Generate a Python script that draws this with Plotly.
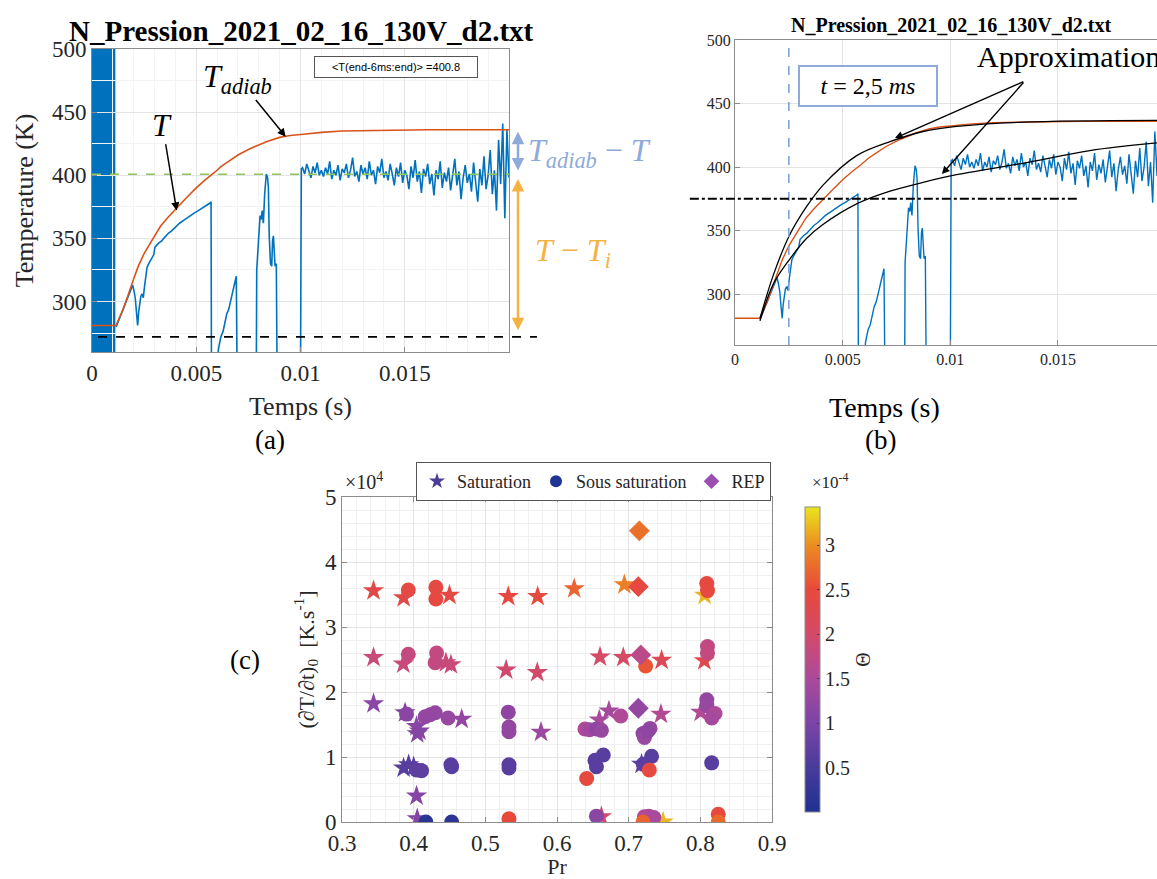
import plotly.graph_objects as go

W, H = 1157, 879
SERIF = "Liberation Serif"
TXT = "#262626"


def px(x):
    return x / W


def py(y):
    return 1 - y / H


# ---------------- data for panels (a) and (b) ----------------
# adiabatic temperature (orange)
t_adiab = [0.0, 0.00115, 0.00150, 0.00174, 0.00200, 0.00222, 0.00250, 0.00286, 0.00300,
           0.00330, 0.00366, 0.00415, 0.00446, 0.00500, 0.00540, 0.00586, 0.00620, 0.00655,
           0.00700, 0.00757, 0.00800, 0.00843, 0.00900, 0.00950, 0.01014, 0.01100, 0.01200,
           0.01300, 0.01443, 0.01614, 0.01800, 0.02000]
T_adiab = [281, 281, 294, 306, 318, 328, 338, 348, 352,
           360, 367, 376, 381, 390, 396, 402, 407, 411,
           416, 421, 424, 427, 430, 431.5, 432.5, 434, 435,
           435.4, 435.7, 436, 436, 436]

# measured temperature (blue)
t_meas = [0.00116, 0.00130, 0.00142, 0.00154, 0.00166, 0.00176, 0.00184, 0.00195, 0.00202,
          0.00208, 0.00214, 0.00219, 0.00224, 0.00228, 0.00234, 0.00240, 0.00246, 0.00252,
          0.00258, 0.00264, 0.00272, 0.00280, 0.00288, 0.00296, 0.00302, 0.00318, 0.00334,
          0.00350, 0.00366, 0.00382, 0.00400, 0.00420, 0.00446, 0.00470, 0.00490, 0.00510,
          0.00530, 0.00550, 0.00566, 0.00571, 0.00573, 0.00600, 0.00606, 0.00618, 0.00628,
          0.00636, 0.00646, 0.00656, 0.00664, 0.00672, 0.00680, 0.00688, 0.00692, 0.00696,
          0.00788, 0.00790, 0.00800, 0.00806, 0.00812, 0.00816, 0.00822, 0.00828, 0.00836,
          0.00842, 0.00846, 0.00850, 0.00856, 0.00862, 0.00866, 0.00870, 0.00874, 0.00878,
          0.00884, 0.00888, 0.01000, 0.01004,
          0.0101, 0.0102, 0.0103, 0.0104, 0.0105, 0.0106, 0.0107, 0.0108, 0.0109, 0.0110,
          0.0111, 0.0112, 0.0113, 0.0114, 0.0115, 0.0116, 0.0117, 0.0118, 0.0119, 0.0120,
          0.0121, 0.0122, 0.0123, 0.0124, 0.0125, 0.0126, 0.0127, 0.0128, 0.0129, 0.0130,
          0.0131, 0.0132, 0.0133, 0.0134, 0.0135, 0.0136, 0.0137, 0.0138, 0.0139, 0.0140,
          0.0141, 0.0142, 0.0143, 0.0144, 0.0145, 0.0146, 0.0147, 0.0148, 0.0149, 0.0150,
          0.0151, 0.0152, 0.0153, 0.0154, 0.0155, 0.0156, 0.0157, 0.0158, 0.0159, 0.0160,
          0.0161, 0.0162, 0.0163, 0.0164, 0.0165, 0.0166, 0.0167, 0.0168, 0.0169, 0.0170,
          0.0171, 0.0172, 0.0173, 0.0174, 0.0175, 0.0176, 0.0177, 0.0178, 0.0179, 0.0180,
          0.0181, 0.0182, 0.0183, 0.0184, 0.0185, 0.0186, 0.0187, 0.0188, 0.0189, 0.0190,
          0.0191, 0.0192, 0.0193, 0.0194, 0.0195, 0.0196, 0.0197, 0.0198, 0.0199, 0.0200]
T_meas = [280, 286, 290, 296, 301, 306, 309, 313, 308,
          302, 290, 281, 292, 299, 304, 306, 303, 312,
          322, 327, 330, 332, 334, 337, 343, 346, 348,
          351, 354, 356, 359, 362, 365, 368, 370, 372,
          374, 376, 378, 379, 240, 240, 262, 272, 276,
          282, 290, 294, 300, 306, 310, 316, 320, 240,
          240, 325, 355, 368, 365, 372, 362, 385, 401,
          398, 390, 352, 330, 328, 348, 352, 340, 328,
          330, 240, 240, 405,
          406, 401, 409, 403, 398, 407, 402, 410, 400, 404,
          399, 406, 401, 411, 397, 404, 400, 408, 396, 405,
          402, 409, 398, 404, 414, 399, 403, 395, 408, 401,
          406, 397, 411, 400, 404, 393, 407, 402, 413, 398,
          403, 396, 409, 401, 392, 406, 399, 410, 394, 404,
          400, 389, 407, 398, 412, 395, 403, 386, 405, 399,
          409, 393, 401, 384, 404, 397, 411, 390, 402, 395,
          406, 388, 399, 413, 392, 403, 381, 398, 408, 394,
          401, 387, 410, 396, 379, 405, 392, 415, 389, 400,
          420, 385, 404, 372, 428, 393, 441, 366, 436, 398]

# approximation curves (panel b)
t_fit_hi = [0.00116, 0.00178, 0.00252, 0.00333, 0.00410, 0.00565, 0.00720, 0.00874,
            0.01029, 0.01338, 0.01960]
T_fit_hi = [281, 315, 346, 369, 386, 409, 420, 428, 432, 435.4, 436.8]
t_fit_lo = [0.00116, 0.00178, 0.00252, 0.00333, 0.00410, 0.00565, 0.00720, 0.00874,
            0.01029, 0.01338, 0.01648, 0.01960]
T_fit_lo = [279, 308, 327, 344, 355, 371, 381, 388, 394, 403, 413, 419]

T_mean = 400.8
T_init = 272
t_trigger = 0.00112
t_mark = 0.0025
T_level = 375

# ---------------- data for panel (c) ----------------
sat_pr = [0.344, 0.386, 0.450, 0.532, 0.573, 0.624, 0.694, 0.806,
          0.344, 0.3855, 0.445, 0.452, 0.529, 0.5725, 0.660, 0.6925, 0.746, 0.8056,
          0.344, 0.388, 0.404, 0.405, 0.408, 0.467, 0.5777, 0.659, 0.6725, 0.745, 0.8005,
          0.386, 0.393, 0.400, 0.718,
          0.404, 0.405, 0.662, 0.748]
sat_dTdt = [35600, 34500, 34900, 34700, 34700, 35900, 36500, 34900,
            25300, 24300, 24500, 24200, 23400, 23000, 25400, 25300, 24900, 24800,
            18200, 16800, 14700, 13600, 14000, 15800, 13800, 15700, 17100, 16600, 16900,
            8300, 8800, 8500, 8900,
            4000, 500, 800, 0]
sat_theta = [2.35, 2.35, 2.4, 2.45, 2.45, 2.7, 2.9, 3.2,
             1.85, 1.85, 1.85, 1.85, 1.95, 2.0, 2.05, 2.05, 2.2, 2.3,
             1.15, 1.1, 1.15, 1.1, 1.1, 1.25, 1.35, 1.5, 1.45, 1.6, 1.6,
             0.65, 0.65, 0.65, 0.7,
             1.1, 1.1, 2.0, 3.2]

sous_pr = [0.3925, 0.431, 0.431, 0.809, 0.810,
           0.3925, 0.432, 0.430, 0.7237, 0.810, 0.810,
           0.390, 0.416, 0.423, 0.430, 0.448, 0.532, 0.533, 0.533, 0.639, 0.6455, 0.655,
           0.662, 0.689, 0.720, 0.722, 0.7298, 0.727, 0.809, 0.809, 0.8205, 0.816,
           0.404, 0.411, 0.452, 0.453, 0.533, 0.533, 0.6646, 0.653, 0.655, 0.6414, 0.732,
           0.7204, 0.7288, 0.8158,
           0.417, 0.453, 0.533, 0.655, 0.722, 0.728, 0.735, 0.720, 0.825, 0.825]
sous_dTdt = [35700, 36100, 34300, 36700, 35600,
             25800, 26000, 24500, 24000, 27000, 26000,
             16600, 16200, 16500, 16800, 16000, 16900, 14600, 13900, 14300, 14200, 14300,
             14100, 16300, 13600, 13000, 14400, 14000, 18800, 17900, 16700, 16000,
             8000, 7900, 8800, 8500, 8800, 8300, 10300, 9500, 8500, 6700, 10100,
             8900, 8000, 9100,
             0, 0, 500, 900, 800, 900, 700, 0, 1200, 0]
sous_theta = [2.4, 2.4, 2.45, 2.45, 2.45,
              1.8, 1.8, 1.8, 2.6, 1.75, 1.8,
              1.15, 1.25, 1.25, 1.25, 1.3, 1.2, 1.25, 1.25, 1.55, 1.4, 1.2,
              1.3, 1.55, 1.2, 1.3, 1.25, 1.2, 1.25, 1.3, 1.55, 1.45,
              0.7, 0.7, 0.65, 0.65, 0.65, 0.65, 0.65, 0.65, 0.65, 2.45, 0.65,
              0.65, 2.45, 0.65,
              0.15, 0.2, 2.5, 1.15, 1.6, 1.55, 1.5, 2.7, 2.45, 2.75]

rep_pr = [0.7149, 0.7135, 0.717, 0.7135]
rep_dTdt = [44800, 36200, 25700, 17500]
rep_theta = [2.8, 2.45, 1.7, 1.25]

legend_names = ["Saturation", "Sous saturation", "REP"]
legend_colors = ["#4b3c98", "#1f3596", "#9b4fb0"]

theta_scale = [[0.0, "#1e3190"], [0.15, "#4a3c9c"], [0.29, "#7b44a6"], [0.44, "#ab4a9c"],
               [0.58, "#d24a6a"], [0.73, "#e8493a"], [0.87, "#ec8a23"], [1.0, "#e9e51b"]]

fig = go.Figure()

# ---- panel (a)
fig.add_trace(go.Scatter(x=t_meas, y=T_meas, mode="lines", line=dict(color="#0072bd", width=1.6),
                         xaxis="x", yaxis="y", showlegend=False))
fig.add_trace(go.Scatter(x=t_adiab, y=T_adiab, mode="lines", line=dict(color="#d95319", width=1.6),
                         xaxis="x", yaxis="y", showlegend=False))

# ---- panel (b)
fig.add_trace(go.Scatter(x=t_meas, y=T_meas, mode="lines", line=dict(color="#0072bd", width=1.4),
                         xaxis="x2", yaxis="y2", showlegend=False))
fig.add_trace(go.Scatter(x=t_adiab, y=T_adiab, mode="lines", line=dict(color="#d95319", width=1.4),
                         xaxis="x2", yaxis="y2", showlegend=False))
fig.add_trace(go.Scatter(x=t_fit_hi, y=T_fit_hi, mode="lines", line=dict(color="black", width=1.3, shape="spline"),
                         xaxis="x2", yaxis="y2", showlegend=False))
fig.add_trace(go.Scatter(x=t_fit_lo, y=T_fit_lo, mode="lines", line=dict(color="black", width=1.3, shape="spline"),
                         xaxis="x2", yaxis="y2", showlegend=False))

# ---- panel (c)
for pr, v, th, sym, size in [(sat_pr, sat_dTdt, sat_theta, "star", 16),
                             (sous_pr, sous_dTdt, sous_theta, "circle", 15),
                             (rep_pr, rep_dTdt, rep_theta, "diamond", 16)]:
    fig.add_trace(go.Scatter(x=pr, y=v, mode="markers", xaxis="x3", yaxis="y3", showlegend=False,
                             marker=dict(symbol=sym, size=size, color=th, coloraxis="coloraxis",
                                         line=dict(width=0))))
for name, col, sym in zip(legend_names, legend_colors, ["star", "circle", "diamond"]):
    fig.add_trace(go.Scatter(x=[None], y=[None], mode="markers", name=name, xaxis="x3", yaxis="y3",
                             marker=dict(symbol=sym, size=12, color=col)))

axis_common = dict(showline=True, linecolor="#8c8c8c", linewidth=1, ticks="inside", ticklen=5,
                   tickcolor="#8c8c8c", zeroline=False, showgrid=True, gridcolor="#e4e4e4",
                   automargin=False)

fig.update_layout(
    width=W, height=H, margin=dict(l=0, r=0, t=0, b=0, autoexpand=False),
    paper_bgcolor="white", plot_bgcolor="white",
    font=dict(family=SERIF, color=TXT),
    xaxis=dict(domain=[px(92), px(509)], range=[0, 0.02], anchor="y", mirror=True,
               tickvals=[0, 0.005, 0.01, 0.015], ticktext=["0", "0.005", "0.01", "0.015"],
               tickfont=dict(size=23, family=SERIF, color=TXT),
               title=dict(text="Temps (s)", font=dict(size=26, family=SERIF, color=TXT), standoff=12),
               minor=dict(dtick=0.001, showgrid=True, gridcolor="#f3f3f3"), **axis_common),
    yaxis=dict(domain=[py(352), py(49)], range=[260, 500], anchor="x", mirror=True,
               tickvals=[300, 350, 400, 450, 500],
               tickfont=dict(size=23, family=SERIF, color=TXT),
               title=dict(text="Temperature (K)", font=dict(size=26, family=SERIF, color=TXT), standoff=10),
               minor=dict(dtick=25, showgrid=True, gridcolor="#f3f3f3"), **axis_common),
    xaxis2=dict(domain=[px(735), 1.0], range=[0, 0.0196], anchor="y2", mirror=True,
                tickvals=[0, 0.005, 0.01, 0.015], ticktext=["0", "0.005", "0.01", "0.015"],
                tickfont=dict(size=16, family=SERIF, color=TXT), **axis_common),
    yaxis2=dict(domain=[py(345), py(40)], range=[260, 500], anchor="x2", mirror=False,
                tickvals=[300, 350, 400, 450, 500],
                tickfont=dict(size=16, family=SERIF, color=TXT), **axis_common),
    xaxis3=dict(domain=[px(342), px(772)], range=[0.3, 0.9], anchor="y3", mirror="ticks",
                tickvals=[0.3, 0.4, 0.5, 0.6, 0.7, 0.8, 0.9],
                ticktext=["0.3", "0.4", "0.5", "0.6", "0.7", "0.8", "0.9"],
                tickfont=dict(size=23, family=SERIF, color=TXT),
                title=dict(text="Pr", font=dict(size=22, family=SERIF, color=TXT), standoff=2),
                minor=dict(dtick=0.02, showgrid=True, gridcolor="#f0f0f0"), **axis_common),
    yaxis3=dict(domain=[py(822), py(497)], range=[0, 50000], anchor="x3", mirror="ticks",
                tickvals=[0, 10000, 20000, 30000, 40000, 50000], ticktext=["0", "1", "2", "3", "4", "5"],
                tickfont=dict(size=23, family=SERIF, color=TXT),
                title=dict(text="(∂T/∂t)<sub>0</sub>  [K.s<sup>-1</sup>]",
                           font=dict(size=22, family=SERIF, color=TXT), standoff=4),
                minor=dict(dtick=2000, showgrid=True, gridcolor="#f0f0f0"), **axis_common),
    coloraxis=dict(colorscale=theta_scale, cmin=0, cmax=3.43,
                   colorbar=dict(x=px(795), xanchor="left", xref="paper", y=py(659.5), yanchor="middle",
                                 yref="paper", len=325 / H, lenmode="fraction", thickness=15,
                                 outlinecolor="#8c8c8c", outlinewidth=1, ticks="inside", ticklen=3,
                                 tickvals=[0.5, 1, 1.5, 2, 2.5, 3],
                                 ticktext=["0.5", "1", "1.5", "2", "2.5", "3"],
                                 tickfont=dict(size=20, family=SERIF, color=TXT),
                                 title=dict(text="Θ", side="right", font=dict(size=20, family=SERIF, color=TXT)))),
    legend=dict(orientation="h", x=px(416), y=py(462), xanchor="left", yanchor="top",
                bordercolor="#555", borderwidth=1, bgcolor="white",
                font=dict(size=18, family=SERIF, color=TXT), itemwidth=30),
)

shapes = [
    # trigger band (a)
    dict(type="rect", xref="x", yref="y domain", x0=0, x1=t_trigger, y0=0, y1=1,
         fillcolor="#0072bd", line=dict(width=0), layer="below"),
    # mean temperature line (a)
    dict(type="line", xref="x", yref="y", x0=0, x1=0.02, y0=T_mean, y1=T_mean,
         line=dict(color="#8fc462", width=1.5, dash="dash")),
    # initial temperature line (a)
    dict(type="line", xref="x domain", yref="y", x0=0.0144, x1=1.067, y0=T_init, y1=T_init,
         line=dict(color="black", width=1.8, dash="dash")),
    # t = 2.5 ms marker (b)
    dict(type="line", xref="x2", yref="y2 domain", x0=t_mark, x1=t_mark, y0=0, y1=1,
         line=dict(color="#7ea3d6", width=1.6, dash="dash")),
    # level line (b)
    dict(type="line", xref="x2 domain", yref="y2", x0=-0.107, x1=0.81, y0=T_level, y1=T_level,
         line=dict(color="black", width=2, dash="dashdot")),
]

C = dict(xanchor="center", yanchor="middle")
ann = []
# titles
ann.append(dict(text="<b>N_Pression_2021_02_16_130V_d2.txt</b>", xref="paper", yref="paper",
                x=px(301), y=py(31), showarrow=False, font=dict(size=29, family=SERIF, color="black"), **C))
ann.append(dict(text="<b>N_Pression_2021_02_16_130V_d2.txt</b>", xref="paper", yref="paper",
                x=px(951), y=py(25), showarrow=False, font=dict(size=20, family=SERIF, color="black"), **C))
# panel labels
for lab, x, y in [("(a)", 270, 440), ("(b)", 880, 440), ("(c)", 245, 660)]:
    ann.append(dict(text=lab, xref="paper", yref="paper", x=px(x), y=py(y), showarrow=False,
                    font=dict(size=27, family=SERIF, color="black"), **C))
# x title panel (b)
ann.append(dict(text="Temps (s)", xref="paper", yref="paper", x=px(884), y=py(407), showarrow=False,
                font=dict(size=28, family=SERIF, color="black"), **C))
# exponent labels (c)
ann.append(dict(text="×10<sup>4</sup>", xref="paper", yref="paper", x=px(343), y=py(481), xanchor="left",
                yanchor="middle", showarrow=False, font=dict(size=20, family=SERIF, color=TXT)))
ann.append(dict(text="×10<sup>-4</sup>", xref="paper", yref="paper", x=px(810), y=py(481), xanchor="left",
                yanchor="middle", showarrow=False, font=dict(size=17, family=SERIF, color=TXT)))
# legend box (a)
ann.append(dict(text="&lt;T(end-6ms:end)&gt; =" + str(T_mean), xref="x", yref="y", x=0.0146, y=486,
                showarrow=False, width=160, height=18, bordercolor="#555", borderwidth=1, bgcolor="white",
                font=dict(size=11, family="Liberation Sans", color="black"), **C))
# T_adiab and T labels (a)
ann.append(dict(text="<i>T</i><sub><i>adiab</i></sub>", xref="x", yref="y", x=0.00929, y=430.5,
                axref="x", ayref="y", ax=0.00700, ay=477, showarrow=True, arrowhead=2, arrowsize=1.1,
                arrowwidth=1.5, arrowcolor="black", standoff=0,
                font=dict(size=32, family=SERIF, color="black")))
ann.append(dict(text="<i>T</i>", xref="x", yref="y", x=0.00406, y=372,
                axref="x", ayref="y", ax=0.00338, ay=440, showarrow=True, arrowhead=2, arrowsize=1.1,
                arrowwidth=1.5, arrowcolor="black", standoff=0,
                font=dict(size=32, family=SERIF, color="black")))
# difference arrows (a)
ann.append(dict(text="", xref="paper", yref="y", x=px(518), y=434.5, axref="pixel", ayref="y",
                ax=0, ay=402.5, showarrow=True, arrowside="end+start", arrowhead=2, arrowsize=1,
                arrowwidth=2.5, arrowcolor="#8eaadb"))
ann.append(dict(text="", xref="paper", yref="y", x=px(518), y=397, axref="pixel", ayref="y",
                ax=0, ay=276, showarrow=True, arrowside="end+start", arrowhead=2, arrowsize=1,
                arrowwidth=2.5, arrowcolor="#f6b143"))
ann.append(dict(text="<i>T</i><sub><i>adiab</i></sub> − <i>T</i>", xref="paper", yref="y", x=px(526),
                y=418, xanchor="left", yanchor="middle", showarrow=False,
                font=dict(size=32, family=SERIF, color="#8eaadb")))
ann.append(dict(text="<i>T</i> − <i>T</i><sub><i>i</i></sub>", xref="paper", yref="y", x=px(533),
                y=339, xanchor="left", yanchor="middle", showarrow=False,
                font=dict(size=32, family=SERIF, color="#f6b143")))
# panel (b) annotations
ann.append(dict(text="<i>t</i> = 2,5 <i>ms</i>", xref="x2", yref="y2", x=0.00617, y=463.5,
                showarrow=False, width=134, height=36, bordercolor="#8eaadb", borderwidth=2, bgcolor="white",
                font=dict(size=24, family=SERIF, color="black"), **C))
ann.append(dict(text="Approximation", xref="paper", yref="paper", x=px(975), y=py(57), xanchor="left",
                yanchor="middle", showarrow=False, font=dict(size=30, family=SERIF, color="black")))
for tx, ty in [(0.00743, 422.8), (0.00961, 394.5)]:
    ann.append(dict(text="", xref="x2", yref="y2", x=tx, y=ty, axref="x2", ayref="y2",
                    ax=0.01346, ay=467.7, showarrow=True, arrowhead=2, arrowsize=1.1,
                    arrowwidth=1.4, arrowcolor="black"))

fig.update_layout(shapes=shapes, annotations=ann)
fig.write_html("out.html", config={"displayModeBar": False},
               post_script="document.body.style.margin='0px';")
